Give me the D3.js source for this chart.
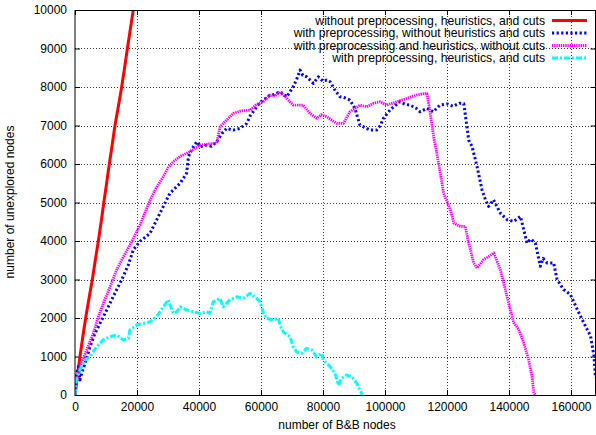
<!DOCTYPE html>
<html>
<head>
<meta charset="utf-8">
<script src="https://cdn.jsdelivr.net/npm/d3@7"></script>
<style>
  html, body { margin: 0; padding: 0; background: #fff; }
  svg { display: block; font-family: "Liberation Sans", Arial, Helvetica, sans-serif; }
</style>
</head>
<body>
<svg id="chart" width="596" height="435"></svg>
<script>
// Tick values
const xTicks = [0, 20000, 40000, 60000, 80000, 100000, 120000, 140000, 160000];
const yTicks = [0, 1000, 2000, 3000, 4000, 5000, 6000, 7000, 8000, 9000, 10000];

// Series: [B&B nodes, unexplored nodes]
const seriesNames = [
  "without preprocessing, heuristics, and cuts",
  "with preprocessing, without heuristics and cuts",
  "with preprocessing and heuristics, without cuts",
  "with preprocessing, heuristics, and cuts"
];

const noPreprocessing = [
  [0,0],[800,500],[1610,1000],[2500,1500],[3440,2000],[4500,2500],[5590,3000],
  [6550,3500],[7530,4000],[8450,4500],[9300,5000],[10200,5500],[11070,6000],
  [12000,6500],[12900,7000],[14000,7500],[15060,8000],[16000,8500],[16900,9000],
  [17850,9500],[18800,10000],[19750,10500]
];

const preprocessingOnly = [
  [0,0],[540,560],[1070,730],[1600,390],[2150,560],[3230,820],[4840,1250],
  [6450,1600],[8070,1860],[10200,2200],[11800,2470],[13400,2730],[15060,2990],
  [17200,3380],[18800,3770],[20970,3990],[24200,4200],[27400,4720],[30600,5240],
  [33900,5500],[36000,5760],[36600,6190],[37800,6400],[39300,6580],[40500,6450],
  [42500,6490],[44000,6460],[45700,6580],[47500,6800],[48900,6925],[51000,6880],
  [53200,6925],[55400,7055],[56500,7250],[57500,7360],[59700,7600],[62900,7790],
  [64000,7800],[66100,7877],[68300,7747],[70400,8007],[71500,8200],[72600,8440],
  [73500,8300],[74700,8266],[76900,8094],[78500,8266],[80000,8150],[81200,8180],
  [82300,8137],[84000,7900],[85500,7747],[87000,7720],[88700,7660],[90300,7445],
  [91900,7012],[93500,6950],[95200,6882],[97300,6882],[98500,7000],[99500,7186],
  [101600,7400],[103000,7500],[104800,7617],[106500,7550],[108100,7530],
  [110000,7450],[111300,7357],[113500,7445],[115600,7357],[117700,7530],
  [120000,7560],[122000,7500],[124000,7580],[125400,7569],[126000,7224],
  [127000,6621],[128100,6448],[129700,5931],[131300,5328],[132400,5069],
  [133400,4897],[135000,5069],[136100,4897],[137200,4724],[139400,4552],
  [141500,4509],[143700,4638],[145800,3948],[147000,4050],[148500,3948],
  [150100,3345],[151000,3550],[152300,3431],[154400,3431],[155500,3000],
  [157600,2741],[159800,2612],[162000,2224],[164100,1879],[166300,1534],
  [167400,1017],[167900,450]
];

const preprocessingHeuristics = [
  [0,0],[540,390],[1600,735],[3770,1170],[5900,1600],[7530,2030],[9140,2380],
  [11300,2810],[13440,3250],[15600,3590],[18300,3980],[20970,4415],[24200,5064],
  [26000,5350],[28500,5670],[30000,5900],[31700,6060],[34000,6200],[37100,6320],
  [40300,6490],[43000,6520],[45700,6540],[46800,6970],[49000,7150],[51100,7315],
  [53500,7380],[56500,7400],[58600,7550],[60700,7617],[62900,7790],[64500,7760],
  [66100,7877],[68300,7704],[70400,7530],[73600,7530],[75800,7315],[78000,7186],
  [79500,7280],[81200,7228],[84400,7056],[86600,7056],[88700,7357],[90500,7450],
  [91900,7530],[94100,7487],[96200,7575],[98400,7617],[100500,7530],[103800,7617],
  [107000,7704],[110200,7790],[112900,7835],[113550,7828],[114600,7310],
  [115700,6707],[117300,6017],[118900,5241],[120000,5026],[121100,4810],
  [122200,4466],[124300,4379],[125900,4379],[127000,3948],[128600,3431],
  [129700,3300],[131800,3517],[133500,3600],[135100,3690],[137200,3259],
  [138800,2741],[140400,2224],[141500,1879],[143100,1707],[144700,1362],
  [146300,931],[147400,500],[148000,69],[148500,0]
];

const allTechniques = [
  [0,0],[540,475],[1600,650],[3200,900],[4800,995],[7000,1254],[9100,1430],
  [11300,1514],[13400,1560],[15600,1430],[17200,1470],[17700,1690],[19900,1820],
  [22000,1860],[24200,1900],[26300,2030],[28500,2290],[30100,2470],[31700,2120],
  [32800,2160],[33900,2290],[36000,2210],[38200,2160],[40300,2120],[42500,2160],
  [43500,2120],[44600,2420],[46800,2510],[47800,2290],[50000,2470],[52200,2550],
  [54300,2510],[56500,2640],[58600,2510],[59700,2420],[60800,2120],[61800,1990],
  [64000,1950],[65600,1990],[66100,1820],[67200,1640],[69400,1510],[70400,1250],
  [71500,1120],[73100,1080],[74700,1210],[76400,1170],[77900,995],[79600,1080],
  [80100,910],[82300,735],[83900,565],[84900,260],[86000,435],[87600,520],
  [89300,475],[90900,305],[91900,130],[92700,0]
];

const seriesData = [noPreprocessing, preprocessingOnly, preprocessingHeuristics, allTechniques];
const seriesColors = ["#ff0000", "#0000ff", "#ff00ff", "#00ffff"];
const seriesDash = [null, "2.2,2.4", "1.4,0.8", "6,2,2,2"];
const seriesWidth = [3, 3, 2.8, 3];

const svg = d3.select("#chart");
const L = 75, R = 595.5, T = 10, B = 395;

const x = d3.scaleLinear().domain([0, 167900]).range([L, R]);
const y = d3.scaleLinear().domain([0, 10000]).range([B, T]);

// grid
const grid = svg.append("g").attr("stroke", "#000").attr("stroke-width", 1)
  .attr("stroke-dasharray", "1,2").attr("opacity", 0.75);
grid.selectAll("line.gx").data(xTicks.filter(d => d > 0)).join("line")
  .attr("x1", d => Math.round(x(d)) + 0.5).attr("x2", d => Math.round(x(d)) + 0.5)
  .attr("y1", T).attr("y2", B);
grid.selectAll("line.gy").data(yTicks.filter(d => d > 0 && d < 10000)).join("line")
  .attr("y1", d => Math.round(y(d)) + 0.5).attr("y2", d => Math.round(y(d)) + 0.5)
  .attr("x1", L).attr("x2", R);

// axes with inward ticks
function styleAxis(g) {
  g.select(".domain").remove();
  g.selectAll(".tick line").attr("stroke", "#000");
  g.selectAll(".tick text").attr("fill", "#000").attr("font-size", 12)
    .attr("font-family", "Liberation Sans, Arial, sans-serif");
}
svg.append("g").attr("transform", `translate(0,${B})`)
  .call(d3.axisBottom(x).tickValues(xTicks).tickFormat(d3.format("d")).tickSize(-5).tickPadding(7))
  .call(styleAxis);
svg.append("g").attr("transform", `translate(0,${T})`)
  .call(d3.axisTop(x).tickValues(xTicks).tickFormat("").tickSize(-5))
  .call(styleAxis);
svg.append("g").attr("transform", `translate(${L},0)`)
  .call(d3.axisLeft(y).tickValues(yTicks).tickFormat(d3.format("d")).tickSize(-5).tickPadding(8))
  .call(styleAxis);
svg.append("g").attr("transform", `translate(${R},0)`)
  .call(d3.axisRight(y).tickValues(yTicks).tickFormat("").tickSize(-5))
  .call(styleAxis);

// series
svg.append("clipPath").attr("id", "plotclip").append("rect")
  .attr("x", L).attr("y", T).attr("width", R - L).attr("height", B - T);
const line = d3.line().x(d => x(d[0])).y(d => y(d[1]));
const plot = svg.append("g").attr("clip-path", "url(#plotclip)");
seriesData.forEach((data, i) => {
  plot.append("path").datum(data).attr("d", line)
    .attr("fill", "none").attr("stroke", seriesColors[i])
    .attr("stroke-width", seriesWidth[i])
    .attr("stroke-dasharray", seriesDash[i])
    .attr("stroke-linejoin", "round");
});

// border
svg.append("rect").attr("x", L).attr("y", T + 0.5).attr("width", R - L).attr("height", B - T)
  .attr("fill", "none").attr("stroke", "#000").attr("stroke-width", 1);

// legend
const legend = svg.append("g");
seriesNames.forEach((name, i) => {
  const ly = 20.5 + i * 12.5;
  legend.append("text").attr("x", 545).attr("y", ly + 4.2)
    .attr("text-anchor", "end").attr("font-size", 12.2).attr("fill", "#000").text(name);
  legend.append("line").attr("x1", 552).attr("x2", 587).attr("y1", ly).attr("y2", ly)
    .attr("stroke", seriesColors[i]).attr("stroke-width", seriesWidth[i])
    .attr("stroke-dasharray", seriesDash[i]);
});

// axis titles
svg.append("text").attr("x", 337).attr("y", 429).attr("text-anchor", "middle")
  .attr("font-size", 12).text("number of B&B nodes");
svg.append("text").attr("transform", "translate(14,202) rotate(-90)")
  .attr("text-anchor", "middle").attr("font-size", 12).text("number of unexplored nodes");
</script>
</body>
</html>
